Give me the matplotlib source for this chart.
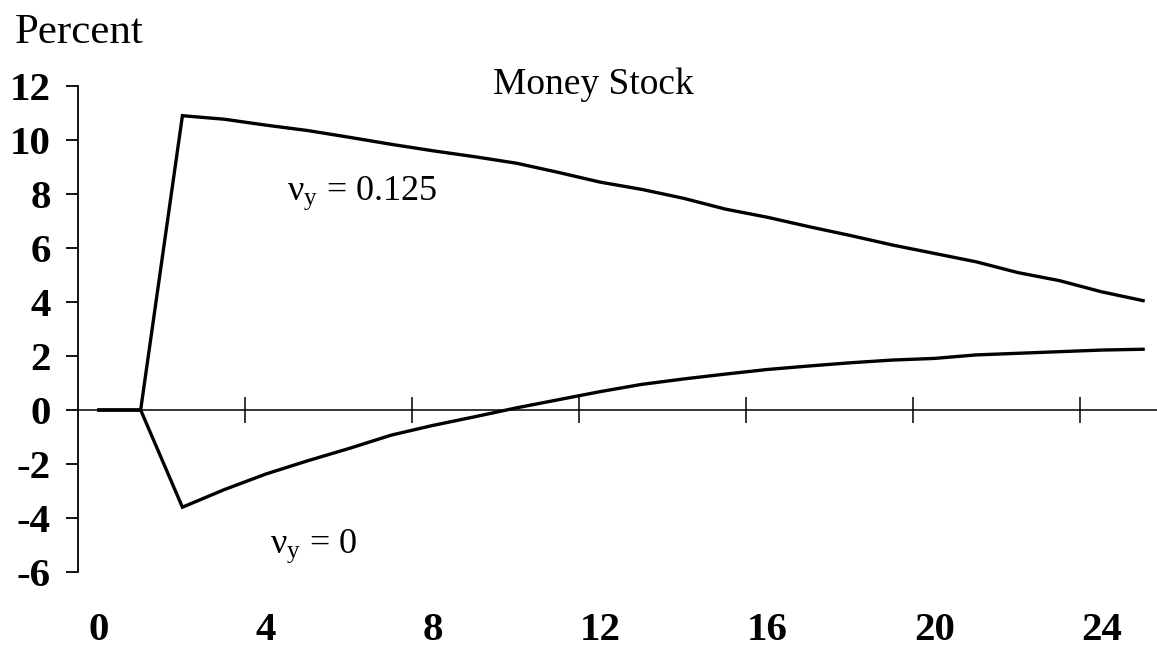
import matplotlib
matplotlib.use("Agg")
import matplotlib.pyplot as plt
import numpy as np

# quarters after the shock
quarters = list(range(26))

# money stock response, percent
money_nu_0125 = [0, 0, 10.9, 10.77, 10.55, 10.35, 10.1, 9.84, 9.6, 9.38, 9.14, 8.8,
                 8.44, 8.17, 7.84, 7.44, 7.14, 6.79, 6.46, 6.11, 5.8, 5.49, 5.09,
                 4.79, 4.38, 4.05]
money_nu_0 = [0, 0, -3.6, -2.95, -2.37, -1.88, -1.42, -0.93, -0.57, -0.25, 0.08, 0.38,
              0.68, 0.95, 1.15, 1.33, 1.5, 1.63, 1.75, 1.85, 1.91, 2.04, 2.1, 2.16,
              2.22, 2.25]

x_labels = [0, 4, 8, 12, 16, 20, 24]
x_ticks = [3.5, 7.5, 11.5, 15.5, 19.5, 23.5]
y_ticks = list(range(-6, 13, 2))

plt.rcParams['font.family'] = ['Liberation Serif', 'DejaVu Serif']
plt.rcParams['mathtext.fontset'] = 'custom'
plt.rcParams['mathtext.rm'] = 'Liberation Serif'
plt.rcParams['mathtext.it'] = 'Liberation Serif:italic'

fig = plt.figure(figsize=(11.57, 6.49), dpi=100)
ax = fig.add_axes([78 / 1157, 77 / 649, 1086 / 1157, 486 / 649])

ax.plot(quarters, money_nu_0125, color='black', lw=2.4, solid_joinstyle='miter')
ax.plot(quarters, money_nu_0, color='black', lw=2.4, solid_joinstyle='miter')

ax.set_xlim(-0.5, 25.5)
ax.set_ylim(-6, 12)

ax.spines['top'].set_visible(False)
ax.spines['right'].set_visible(False)
ax.spines['left'].set_linewidth(1.3)
ax.spines['bottom'].set_position(('data', 0))
ax.spines['bottom'].set_linewidth(1.1)

ax.set_xticks(x_ticks)
ax.set_xticklabels([])
ax.tick_params(axis='x', direction='inout', length=18.5, width=1.1)

ax.set_yticks(y_ticks)
ax.set_yticklabels([str(v) for v in y_ticks], fontsize=29.5, fontweight='bold')
ax.tick_params(axis='y', direction='out', length=8.6, width=1.3, pad=11)

for v in x_labels:
    ax.text(v, -0.12, str(v), transform=ax.get_xaxis_transform(),
            ha='center', va='center', fontsize=29.5, fontweight='bold')

fig.text(15 / 1157, 1 - 43 / 649, 'Percent', fontsize=31, ha='left', va='baseline')
ax.text(11.85, 11.7, 'Money Stock', fontsize=27, ha='center', va='baseline')

ax.text(4.5, 7.78, r'$\mathrm{\nu_y}$ = 0.125', fontsize=26, ha='left', va='baseline')
ax.text(4.1, -5.3, r'$\mathrm{\nu_y}$ = 0', fontsize=26, ha='left', va='baseline')

fig.savefig('out.png', dpi=100)
